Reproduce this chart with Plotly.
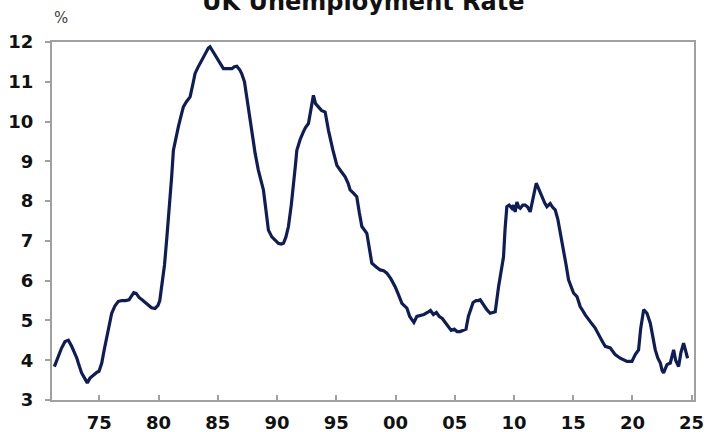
import plotly.graph_objects as go

# Decimal-year positions and unemployment rate (%)
years = [
    1971.20, 1971.50, 1971.80, 1972.10, 1972.38, 1972.66, 1972.94, 1973.10, 1973.22, 1973.50,
    1973.75, 1973.98, 1974.21, 1974.40, 1974.63, 1974.80, 1974.97, 1975.20, 1975.40, 1975.62,
    1975.85, 1976.04, 1976.32, 1976.60, 1976.90, 1977.20, 1977.50, 1977.70, 1977.90, 1978.10,
    1978.35, 1978.60, 1978.85, 1979.10, 1979.40, 1979.70, 1979.95, 1980.10, 1980.30, 1980.50,
    1980.70, 1980.90, 1981.10, 1981.25, 1981.45, 1981.67, 1981.90, 1982.09, 1982.35, 1982.66,
    1982.90, 1983.08, 1983.30, 1983.50, 1983.75, 1984.00, 1984.20, 1984.34, 1984.60, 1984.91,
    1985.20, 1985.47, 1985.80, 1986.18, 1986.40, 1986.60, 1986.85, 1987.02, 1987.25, 1987.45,
    1987.72, 1987.95, 1988.15, 1988.42, 1988.65, 1988.85, 1989.05, 1989.27, 1989.56, 1989.85,
    1990.11, 1990.35, 1990.54, 1990.75, 1990.96, 1991.20, 1991.38, 1991.55, 1991.67, 1991.95,
    1992.22, 1992.40, 1992.65, 1992.85, 1993.07, 1993.25, 1993.49, 1993.75, 1994.06, 1994.34,
    1994.70, 1995.05, 1995.40, 1995.75, 1996.00, 1996.17, 1996.45, 1996.73, 1996.95, 1997.16,
    1997.58, 1997.80, 1998.00, 1998.35, 1998.70, 1999.00, 1999.27, 1999.60, 1999.97, 2000.25,
    2000.54, 2000.96, 2001.20, 2001.38, 2001.55, 2001.80, 2002.10, 2002.40, 2002.70, 2002.95,
    2003.20, 2003.45, 2003.70, 2003.95, 2004.20, 2004.45, 2004.70, 2004.95, 2005.20, 2005.45,
    2005.70, 2005.95, 2006.15, 2006.35, 2006.55, 2006.80, 2007.00, 2007.15, 2007.40, 2007.71,
    2007.99, 2008.20, 2008.42, 2008.70, 2008.90, 2009.12, 2009.25, 2009.40, 2009.60, 2009.83,
    2009.95, 2010.10, 2010.25, 2010.40, 2010.53, 2010.75, 2010.95, 2011.15, 2011.37, 2011.60,
    2011.88, 2012.10, 2012.36, 2012.60, 2012.78, 2013.06, 2013.25, 2013.48, 2013.70, 2013.91,
    2014.19, 2014.40, 2014.61, 2014.80, 2015.03, 2015.32, 2015.59, 2015.80, 2016.02, 2016.44,
    2016.86, 2017.05, 2017.28, 2017.50, 2017.71, 2018.13, 2018.35, 2018.55, 2018.97, 2019.25,
    2019.54, 2019.96, 2020.24, 2020.52, 2020.70, 2020.95, 2021.23, 2021.51, 2021.70, 2021.93,
    2022.15, 2022.36, 2022.50, 2022.63, 2022.92, 2023.20, 2023.48, 2023.65, 2023.90, 2024.10,
    2024.32, 2024.50, 2024.66,
]
rate = [
    3.84, 4.08, 4.30, 4.47, 4.50, 4.35, 4.18, 4.05, 3.93, 3.68,
    3.55, 3.43, 3.55, 3.60, 3.64, 3.70, 3.72, 3.93, 4.25, 4.60,
    4.95, 5.18, 5.37, 5.48, 5.50, 5.50, 5.52, 5.62, 5.70, 5.68,
    5.58, 5.52, 5.45, 5.40, 5.32, 5.30, 5.38, 5.50, 5.90, 6.40,
    7.10, 7.80, 8.60, 9.28, 9.60, 9.87, 10.15, 10.37, 10.50, 10.62,
    10.95, 11.21, 11.35, 11.46, 11.60, 11.72, 11.85, 11.88, 11.75, 11.62,
    11.45, 11.33, 11.33, 11.33, 11.38, 11.39, 11.30, 11.20, 11.00, 10.60,
    10.04, 9.55, 9.20, 8.78, 8.50, 8.28, 7.80, 7.27, 7.10, 7.00,
    6.94, 6.92, 6.94, 7.10, 7.36, 7.90, 8.36, 8.90, 9.28, 9.55,
    9.74, 9.85, 9.95, 10.30, 10.66, 10.45, 10.37, 10.28, 10.24, 9.78,
    9.30, 8.90, 8.75, 8.61, 8.45, 8.28, 8.20, 8.11, 7.70, 7.36,
    7.19, 6.80, 6.44, 6.35, 6.27, 6.25, 6.19, 6.05, 5.85, 5.65,
    5.43, 5.31, 5.10, 5.02, 4.95, 5.10, 5.12, 5.15, 5.20, 5.25,
    5.15, 5.20, 5.10, 5.05, 4.95, 4.85, 4.75, 4.78, 4.72, 4.72,
    4.75, 4.78, 5.10, 5.30, 5.45, 5.50, 5.50, 5.52, 5.40, 5.27,
    5.18, 5.20, 5.22, 5.85, 6.20, 6.60, 7.30, 7.86, 7.90, 7.82,
    7.90, 7.73, 7.98, 7.85, 7.82, 7.90, 7.90, 7.85, 7.73, 8.10,
    8.45, 8.30, 8.11, 7.95, 7.86, 7.94, 7.85, 7.78, 7.55, 7.23,
    6.77, 6.40, 6.02, 5.85, 5.69, 5.60, 5.35, 5.25, 5.14, 4.97,
    4.81, 4.70, 4.56, 4.45, 4.35, 4.31, 4.22, 4.14, 4.05, 4.00,
    3.97, 3.97, 4.14, 4.26, 4.80, 5.27, 5.18, 4.93, 4.60, 4.26,
    4.05, 3.93, 3.75, 3.68, 3.89, 3.93, 4.26, 4.00, 3.84, 4.20,
    4.43, 4.25, 4.05,
]

x_tick_vals = [1975, 1980, 1985, 1990, 1995, 2000, 2005, 2010, 2015, 2020, 2025]
x_tick_text = ["75", "80", "85", "90", "95", "00", "05", "10", "15", "20", "25"]
y_tick_vals = [3, 4, 5, 6, 7, 8, 9, 10, 11, 12]

title_text = "UK Unemployment Rate"
unit_text = "%"

LINE = "#0e1d57"
FRAME = "#a0a0a0"
tickfont = dict(family="DejaVu Sans", size=18, color="#111111", weight="bold")

fig = go.Figure()
fig.add_trace(go.Scatter(
    x=years, y=rate, mode="lines",
    line=dict(color=LINE, width=3.2),
    hoverinfo="skip", showlegend=False,
))

fig.update_layout(
    width=708, height=432,
    margin=dict(l=52, r=14, t=42, b=32, autoexpand=False),
    paper_bgcolor="white", plot_bgcolor="white",
    showlegend=False,
)
fig.update_xaxes(
    range=[1971.0, 2025.2], automargin=False,
    tickmode="array", tickvals=x_tick_vals, ticktext=x_tick_text,
    ticks="inside", ticklen=5, tickwidth=1.5, tickcolor=FRAME,
    showline=True, linecolor=FRAME, linewidth=2, mirror=True,
    showgrid=False, zeroline=False,
    tickfont=tickfont, ticklabelstandoff=5,
)
fig.update_yaxes(
    range=[3, 12], automargin=False,
    tickmode="array", tickvals=y_tick_vals,
    ticks="outside", ticklen=5, tickwidth=1.5, tickcolor=FRAME,
    showline=True, linecolor=FRAME, linewidth=2, mirror=True,
    showgrid=False, zeroline=False,
    tickfont=tickfont, ticklabelstandoff=8,
)

fig.add_annotation(
    text=title_text, xref="paper", yref="paper",
    x=(363 - 52) / 642, y=(358 + 40) / 358, xanchor="center", yanchor="middle",
    showarrow=False,
    font=dict(family="DejaVu Sans", size=24, color="#111111", weight="bold"),
)
fig.add_annotation(
    text=unit_text, xref="paper", yref="paper",
    x=0.0, y=(358 + 24) / 358, xanchor="left", yanchor="middle",
    showarrow=False,
    font=dict(family="DejaVu Sans", size=15, color="#444444"),
)

fig.write_html("out.html")
